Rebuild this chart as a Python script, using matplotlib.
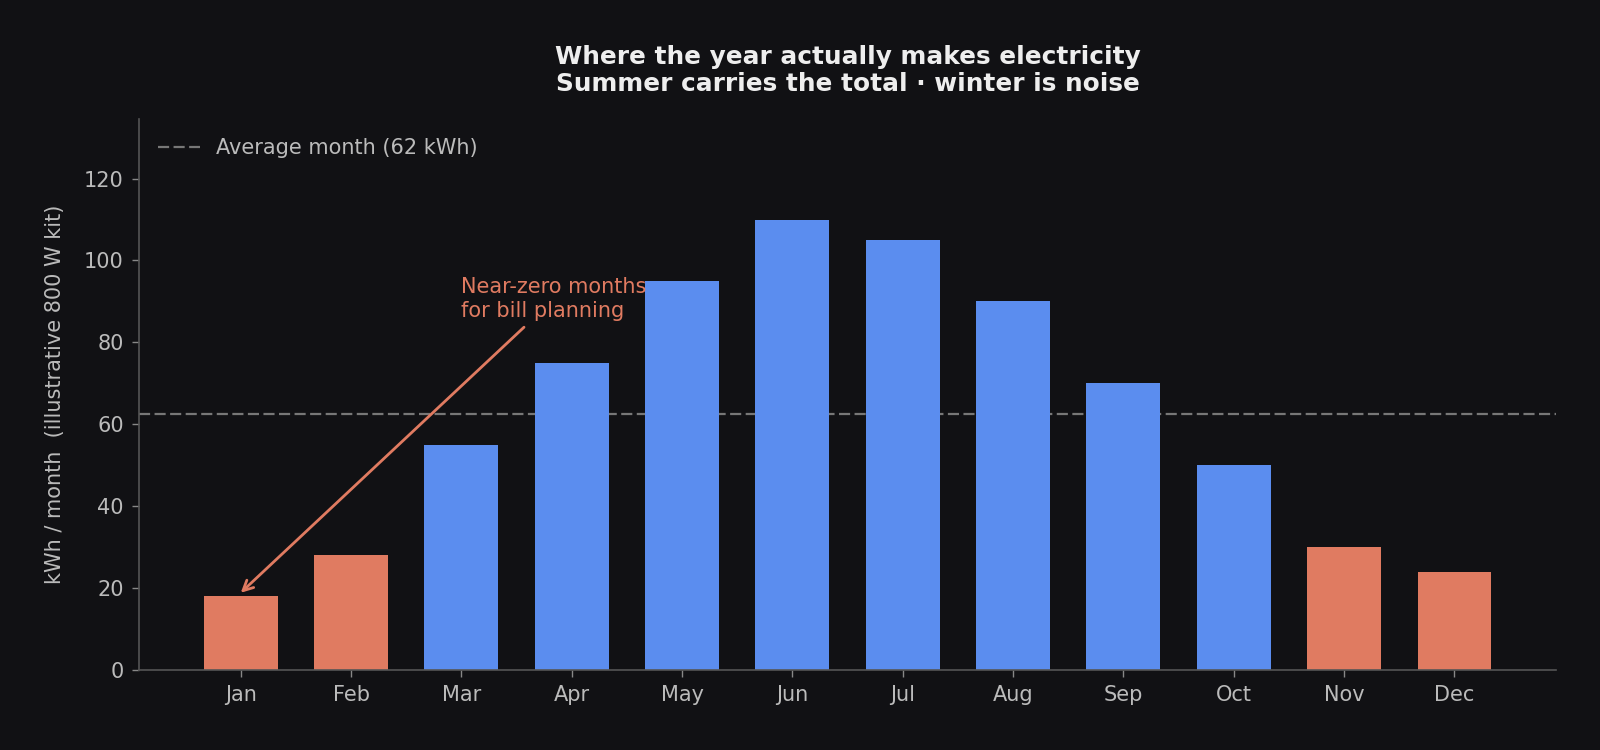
import matplotlib
matplotlib.use("Agg")
import matplotlib.pyplot as plt
import numpy as np

months = ["Jan", "Feb", "Mar", "Apr", "May", "Jun", "Jul", "Aug", "Sep", "Oct", "Nov", "Dec"]
kwh = [18, 28, 55, 75, 95, 110, 105, 90, 70, 50, 30, 24]
low_months = ["Jan", "Feb", "Nov", "Dec"]

BG = "#111114"
BLUE = "#5B8DEF"
ORANGE = "#E07B61"
TXT = "#BBBBBB"
SPINE = "#555555"

avg = np.mean(kwh)

fig = plt.figure(figsize=(16, 7.5), dpi=100, facecolor=BG)
ax = fig.add_axes([0.087, 0.107, 0.8855, 0.734])
ax.set_facecolor(BG)

x = np.arange(len(months))
colors = [ORANGE if m in low_months else BLUE for m in months]
ax.bar(x, kwh, width=0.67, color=colors, zorder=2)

ax.axhline(avg, color="#777777", ls="--", lw=1.6, dashes=(5, 2), zorder=1,
           label=f"Average month ({int(avg)} kWh)")

ax.set_xlim(-0.92, 11.92)
ax.set_ylim(0, 134.5)
ax.set_xticks(x)
ax.set_xticklabels(months)
ax.set_yticks([0, 20, 40, 60, 80, 100, 120])

for s in ["top", "right"]:
    ax.spines[s].set_visible(False)
for s in ["left", "bottom"]:
    ax.spines[s].set_color(SPINE)
    ax.spines[s].set_linewidth(1.2)
ax.tick_params(colors=TXT, labelsize=15, length=5, width=1, pad=6)
ax.tick_params(axis="both", color="#888888")

ax.set_ylabel("kWh / month  (illustrative 800 W kit)", color=TXT, fontsize=15, labelpad=14)

leg = ax.legend(loc="upper left", frameon=False, fontsize=15, handlelength=2.0,
                bbox_to_anchor=(0.0, 1.0))
for t in leg.get_texts():
    t.set_color(TXT)

ax.annotate("Near-zero months\nfor bill planning", xy=(0, 18.8), xytext=(2.0, 85.3),
            color=ORANGE, fontsize=15, ha="left", va="bottom",
            arrowprops=dict(arrowstyle="->", color=ORANGE, lw=2.0,
                            mutation_scale=18, shrinkA=4, shrinkB=0),
            zorder=5)

ax.set_title("Where the year actually makes electricity\nSummer carries the total · winter is noise",
             color="#EEEEEE", fontsize=17.8, fontweight="bold", pad=20, linespacing=1.2)

fig.savefig("out.png", dpi=100, facecolor=BG)
